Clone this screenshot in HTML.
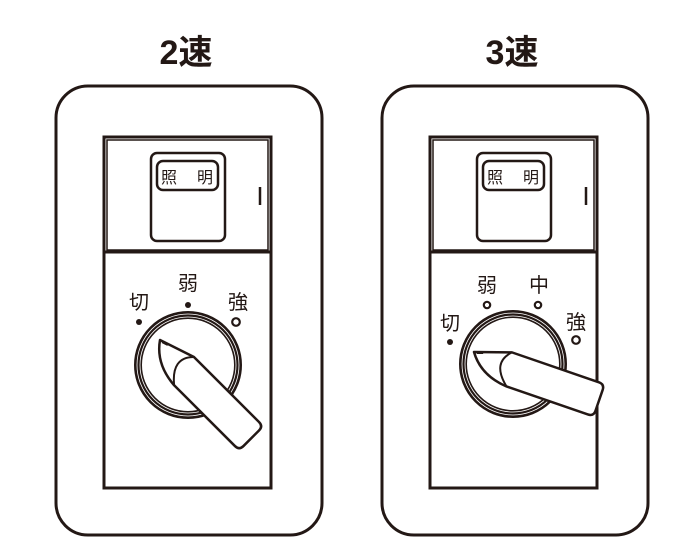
<!DOCTYPE html>
<html><head><meta charset="utf-8"><style>
html,body{margin:0;padding:0;background:#fff;}
svg{display:block}
text{font-family:"Liberation Sans","Noto Sans CJK JP",sans-serif;fill:#231815}
</style></head><body>
<svg width="700" height="542" viewBox="0 0 700 542" xmlns="http://www.w3.org/2000/svg">
<defs>
<g id="plate">
  <rect x="56" y="86" width="266" height="449" rx="32" fill="#fff" stroke="#231815" stroke-width="3"/>
  <rect x="104" y="137" width="167" height="351" fill="#fff" stroke="#231815" stroke-width="3"/>
  <rect x="107" y="140" width="161" height="110" fill="none" stroke="#231815" stroke-width="1.5"/>
  <line x1="104" y1="252" x2="271" y2="252" stroke="#231815" stroke-width="3"/>
  <rect x="151" y="153" width="74" height="88" rx="6" fill="#fff" stroke="#231815" stroke-width="2.5"/>
  <rect x="157" y="161" width="61" height="29" rx="6" fill="#fff" stroke="#231815" stroke-width="2.5"/>
  <text x="161" y="183" font-size="16">照</text>
  <text x="197" y="183" font-size="16">明</text>
  <line x1="260" y1="187" x2="260" y2="205" stroke="#231815" stroke-width="2.5"/>
</g>
<g id="lever">
  <path d="M0,0 L36,-12 L128,-12 Q134,-12 134,-6 L134,16 Q134,22 128,22 L42,22 Q14,20 0,0 Z" fill="#fff" stroke="#231815" stroke-width="2.5" stroke-linejoin="round"/>
  <path d="M36,-12 Q20,4 42,22" fill="none" stroke="#231815" stroke-width="2"/>
  <path d="M3,0 L9,-2" stroke="#231815" stroke-width="2"/>
</g>
</defs>
<text x="186" y="64" font-size="34" font-weight="bold" text-anchor="middle">2速</text>
<text x="512" y="64" font-size="34" font-weight="bold" text-anchor="middle">3速</text>

<use href="#plate"/>
<use href="#plate" x="326"/>

<!-- left knob -->
<g>
  <text x="139" y="309" font-size="20" text-anchor="middle">切</text>
  <circle cx="139" cy="322" r="3" fill="#231815"/>
  <text x="188" y="290" font-size="20" text-anchor="middle">弱</text>
  <circle cx="188" cy="305" r="3" fill="#231815"/>
  <text x="238" y="309" font-size="20" text-anchor="middle">強</text>
  <circle cx="236" cy="322" r="3.8" fill="#fff" stroke="#231815" stroke-width="2.2"/>
  <circle cx="188" cy="365" r="50" fill="#fff" stroke="#231815" stroke-width="8"/>
  <circle cx="188" cy="365" r="51" fill="none" stroke="#fff" stroke-width="0.8"/>
  <circle cx="188" cy="365" r="48" fill="none" stroke="#fff" stroke-width="0.8"/>
  <use href="#lever" transform="translate(160,340) rotate(45)"/>
</g>

<!-- right knob -->
<g>
  <text x="450" y="330" font-size="20" text-anchor="middle">切</text>
  <circle cx="450" cy="342" r="3" fill="#231815"/>
  <text x="487" y="292" font-size="20" text-anchor="middle">弱</text>
  <circle cx="487" cy="305" r="3.2" fill="#fff" stroke="#231815" stroke-width="2.2"/>
  <text x="539" y="292" font-size="20" text-anchor="middle">中</text>
  <circle cx="538" cy="305" r="3.2" fill="#fff" stroke="#231815" stroke-width="2.2"/>
  <text x="576" y="329" font-size="20" text-anchor="middle">強</text>
  <circle cx="576" cy="340" r="3.8" fill="#fff" stroke="#231815" stroke-width="2.2"/>
  <circle cx="513" cy="364" r="50" fill="#fff" stroke="#231815" stroke-width="8"/>
  <circle cx="513" cy="364" r="51" fill="none" stroke="#fff" stroke-width="0.8"/>
  <circle cx="513" cy="364" r="48" fill="none" stroke="#fff" stroke-width="0.8"/>
  <use href="#lever" transform="translate(474,352) rotate(19)"/>
</g>
</svg>
</body></html>
